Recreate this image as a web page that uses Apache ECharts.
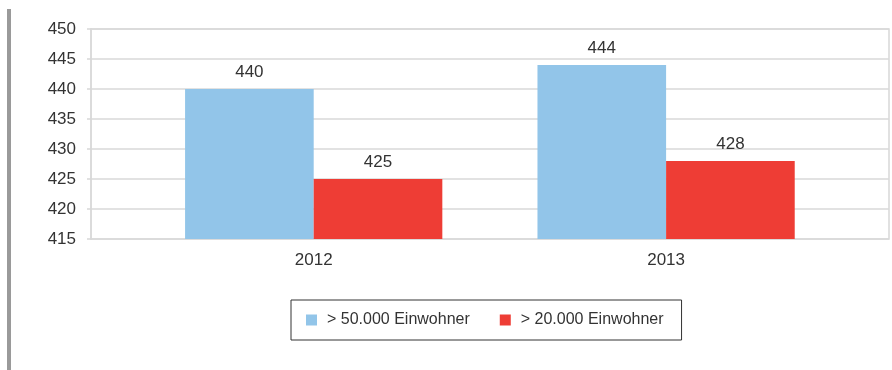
<!DOCTYPE html>
<html>
<head>
<meta charset="utf-8">
<script src="https://cdn.jsdelivr.net/npm/echarts@6/dist/echarts.min.js"></script>
<style>
  html, body { margin: 0; padding: 0; background: #fff; }
  #chart { width: 892px; height: 370px; }
</style>
</head>
<body>
<div id="chart"></div>
<script>
// Years on the category axis
const years = ['2012', '2013'];
// Series names and values
const seriesNames = ['> 50.000 Einwohner', '> 20.000 Einwohner'];
const over50k = [440, 444];
const over20k = [425, 428];
// Value axis range
const yMin = 415;
const yMax = 450;
const yStep = 5;

const FONT = '"Liberation Sans", Arial, Helvetica, sans-serif';
const TEXT = '#333333';
const GRID = '#d8d8d8';

const chart = echarts.init(document.getElementById('chart'), null, { renderer: 'canvas' });

chart.setOption({
  animation: false,
  backgroundColor: '#ffffff',
  textStyle: { fontFamily: FONT },
  graphic: [
    { type: 'rect', left: 7, top: 9, shape: { width: 4, height: 361 }, style: { fill: '#9a9a9a' } }
  ],
  legend: {
    left: 291,
    top: 300,
    orient: 'horizontal',
    data: seriesNames,
    icon: 'rect',
    itemWidth: 11,
    itemHeight: 11,
    itemGap: 30,
    borderColor: '#333333',
    borderWidth: 1,
    borderRadius: 0,
    padding: [12, 18, 12, 15],
    textStyle: { fontFamily: FONT, fontSize: 16, color: TEXT, lineHeight: 16, padding: [0, 0, 0, 5] }
  },
  grid: [
    // frame with gridlines and value labels
    { left: 91, right: 3, top: 29, height: 210, show: true, borderColor: GRID, borderWidth: 1.5 },
    // bars
    { left: 137.5, right: 49.7, top: 29, height: 210 }
  ],
  xAxis: [
    { gridIndex: 0, type: 'category', data: years, show: false },
    {
      gridIndex: 1, type: 'category', data: years,
      axisLine: { show: false }, axisTick: { show: false },
      axisLabel: { color: TEXT, fontSize: 17, fontFamily: FONT, margin: 13 }
    }
  ],
  yAxis: [
    {
      gridIndex: 0, type: 'value', min: yMin, max: yMax, interval: yStep,
      axisLine: { show: true, lineStyle: { color: GRID, width: 1.5 } },
      axisTick: { show: true, length: 4, lineStyle: { color: GRID, width: 1.5 } },
      axisLabel: { color: TEXT, fontSize: 17, fontFamily: FONT, margin: 15 },
      splitLine: { show: true, lineStyle: { color: GRID, width: 1.5 } }
    },
    {
      gridIndex: 1, type: 'value', min: yMin, max: yMax, interval: yStep,
      show: false, splitLine: { show: false }
    }
  ],
  series: [
    {
      name: seriesNames[0], type: 'bar', xAxisIndex: 1, yAxisIndex: 1,
      data: over50k, barGap: '0%', barCategoryGap: '27%',
      itemStyle: { color: '#92c5e9' },
      label: { show: true, position: 'top', distance: 8, color: TEXT, fontSize: 17, fontFamily: FONT }
    },
    {
      name: seriesNames[1], type: 'bar', xAxisIndex: 1, yAxisIndex: 1,
      data: over20k, barGap: '0%', barCategoryGap: '27%',
      itemStyle: { color: '#ee3d35' },
      label: { show: true, position: 'top', distance: 8, color: TEXT, fontSize: 17, fontFamily: FONT }
    }
  ]
});
</script>
</body>
</html>
